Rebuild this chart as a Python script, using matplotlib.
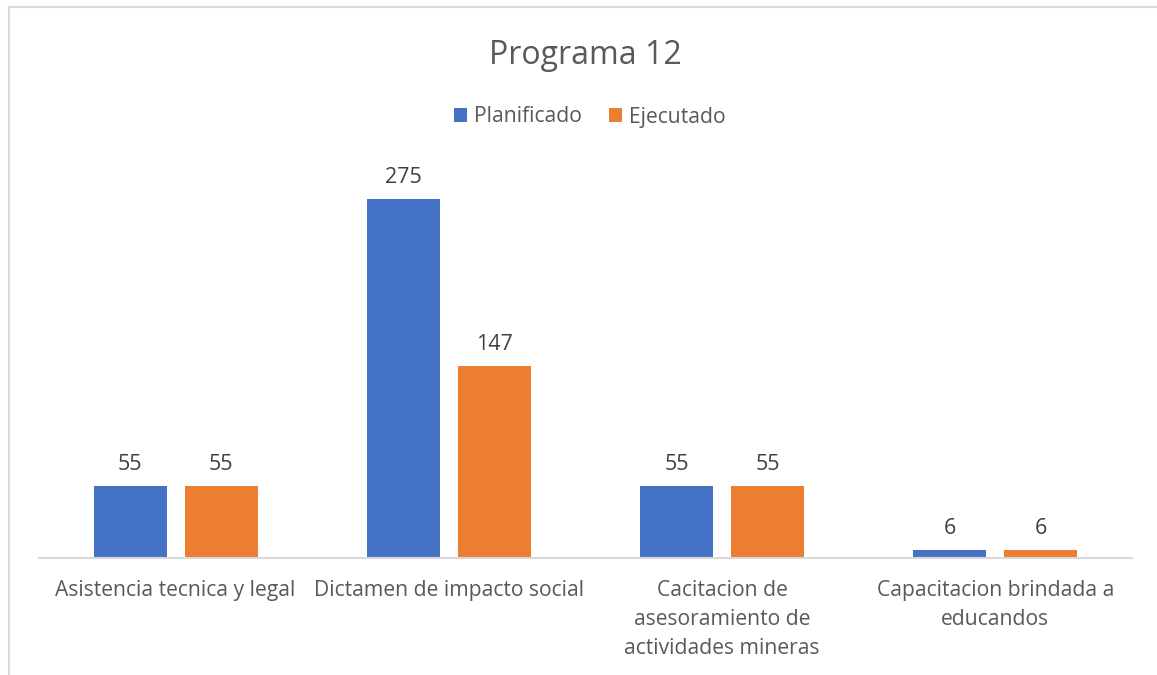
import matplotlib
matplotlib.use("Agg")
import matplotlib.pyplot as plt
import numpy as np
from matplotlib.lines import Line2D

# data
categories = [
    "Asistencia tecnica y legal",
    "Dictamen de impacto social",
    "Cacitacion de\nasesoramiento de\nactividades mineras",
    "Capacitacion brindada a\neducandos",
]
planificado = [55, 275, 55, 6]
ejecutado = [55, 147, 55, 6]
series_names = ["Planificado", "Ejecutado"]

BLUE = "#4472C4"
ORANGE = "#ED7D31"
TEXT = "#595959"
VALUE_TEXT = "#404040"

plt.rcParams["font.family"] = ["Open Sans", "DejaVu Sans"]

fig = plt.figure(figsize=(11.57, 6.75), dpi=100)
ax = fig.add_axes([39 / 1157, 1 - 558 / 675, 1093 / 1157, 392 / 675])

x = np.arange(len(categories))
width = 0.267
gap = 0.066
offset = (width + gap) / 2

bars_p = ax.bar(x - offset, planificado, width, color=BLUE, label=series_names[0])
bars_e = ax.bar(x + offset, ejecutado, width, color=ORANGE, label=series_names[1])

for bars in (bars_p, bars_e):
    for b in bars:
        ax.annotate(f"{b.get_height():g}", (b.get_x() + b.get_width() / 2, b.get_height()),
                    xytext=(0, 8), textcoords="offset points",
                    ha="center", va="bottom", fontsize=15.5, color=VALUE_TEXT)

ax.set_xlim(-0.5, len(categories) - 0.5)
ax.set_ylim(0, 300)
ax.set_xticks(x)
ax.set_xticklabels(categories, fontsize=15.2, color=TEXT, linespacing=1.48)
ax.tick_params(axis="x", length=0, pad=16)
ax.set_yticks([])
for side in ("top", "left", "right"):
    ax.spines[side].set_visible(False)
ax.spines["bottom"].set_color("#d9d9d9")
ax.spines["bottom"].set_linewidth(1.5)

fig.text(585 / 1157, 1 - 56 / 675, "Programa 12", ha="center", va="center",
         fontsize=23, color=TEXT)

fig.legend(handles=[bars_p, bars_e], labels=series_names, loc="center",
           bbox_to_anchor=(590 / 1157, 1 - 117 / 675), ncol=2, frameon=False,
           fontsize=15.2, labelcolor=TEXT, handlelength=0.6, handleheight=0.6,
           handletextpad=0.35, columnspacing=1.3)

# chart-area frame (only top and left edges are visible in the reference)
fig.add_artist(Line2D([9 / 1157, 9 / 1157], [0, 1 - 7 / 675], transform=fig.transFigure,
                      color="#d9d9d9", lw=1.5))
fig.add_artist(Line2D([9 / 1157, 1], [1 - 7 / 675, 1 - 7 / 675], transform=fig.transFigure,
                      color="#d9d9d9", lw=1.5))

fig.savefig("out.png", dpi=100)
